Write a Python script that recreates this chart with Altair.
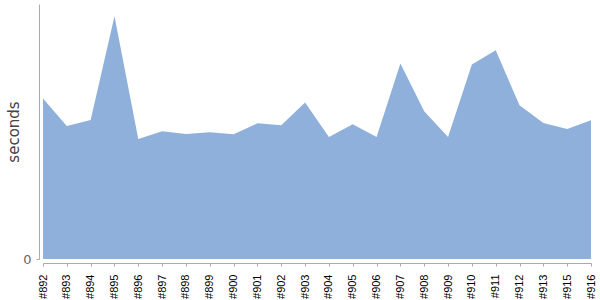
import altair as alt
import pandas as pd

builds = ["#892", "#893", "#894", "#895", "#896", "#897", "#898", "#899", "#900",
          "#901", "#902", "#903", "#904", "#905", "#906", "#907", "#908", "#909",
          "#910", "#911", "#912", "#913", "#915", "#916"]
seconds = [160.4, 133.0, 139.0, 242.7, 120.0, 127.7, 125.0, 126.7, 124.7,
           135.7, 133.7, 156.4, 122.0, 134.7, 122.0, 195.4, 147.7, 122.0,
           194.4, 208.7, 153.7, 136.0, 130.0, 138.7]

df = pd.DataFrame({"build": builds, "seconds": seconds})

chart = alt.Chart(df).mark_area(color="#8fb0da", opacity=1).encode(
    x=alt.X("build:N", sort=builds,
            scale=alt.Scale(type="point", padding=0),
            axis=alt.Axis(title=None, labelAngle=-90, labelAlign="right", labelBaseline="middle",
                          labelFont="Liberation Sans", labelFontSize=11, labelColor="#000",
                          labelPadding=8, tickSize=3, tickColor="#aaa", domainColor="#aaa",
                          offset=4, grid=False)),
    y=alt.Y("seconds:Q", scale=alt.Scale(domain=[0, 255], nice=False),
            axis=alt.Axis(title="seconds", values=[0], grid=False, offset=4,
                          labelFont="DejaVu Sans", labelFontSize=13, labelColor="#666",
                          labelPadding=5, tickSize=3, tickColor="#aaa", domainColor="#aaa",
                          titleFont="DejaVu Sans", titleFontSize=15, titleFontWeight="normal",
                          titleColor="#444", titlePadding=1)),
).properties(
    width=548, height=255,
    autosize=alt.AutoSizeParams(type="none"),
    padding={"left": 43, "top": 4, "right": 9, "bottom": 41},
).configure_view(stroke=None)

chart.save("out.html", embed_options={"renderer": "svg", "actions": False})
